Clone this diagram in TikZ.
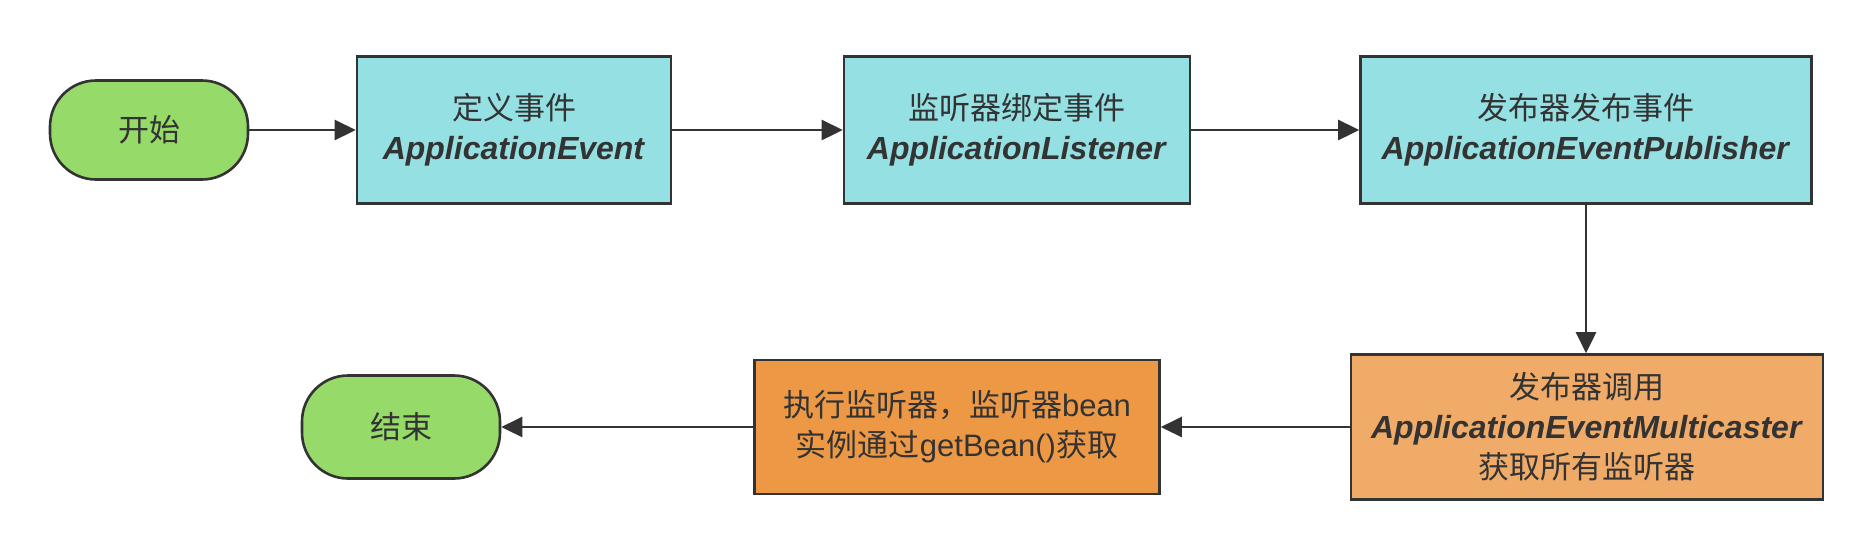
\documentclass[tikz,border=0pt]{standalone}
\usepackage{fontspec}
\setmainfont{Liberation Sans}
\newfontfamily\cjk{Noto Sans CJK SC}
\usetikzlibrary{arrows.meta}
\definecolor{ink}{HTML}{333333}
\definecolor{startgreen}{HTML}{96DA6A}
\definecolor{boxcyan}{HTML}{94E0E2}
\definecolor{boxorangel}{HTML}{F0AB69}
\definecolor{boxoranged}{HTML}{ED9844}
\begin{document}
\begin{tikzpicture}[x=1pt,y=-1pt,
  every node/.style={text=ink, align=center, inner sep=0pt, font=\fontsize{31}{40}\selectfont},
  terminal/.style={draw=ink, line width=2.6pt, fill=startgreen, rounded corners=46pt, minimum width=198pt},
  procbox/.style={draw=ink, line width=2.6pt, minimum height=147pt},
  flow/.style={draw=ink, line width=2.6pt, -{Triangle[length=21pt,width=20pt]}}
]
\useasboundingbox[fill=white] (0,0) rectangle (1873,550);
\newcommand{\bi}[1]{{\fontsize{32}{40}\selectfont\textbf{\textit{#1}}}}
\node[terminal, minimum height=99pt] (start) at (149,130) {\cjk 开始};
\node[procbox, fill=boxcyan, minimum width=314pt] (def) at (514,130) {{\cjk 定义事件}\\\bi{ApplicationEvent}};
\node[procbox, fill=boxcyan, minimum width=346pt] (lis) at (1017,130) {{\cjk 监听器绑定事件}\\\bi{ApplicationListener}};
\node[procbox, fill=boxcyan, minimum width=451pt] (pub) at (1586,130) {{\cjk 发布器发布事件}\\\bi{ApplicationEventPublisher}};
\node[procbox, fill=boxorangel, minimum width=472pt, minimum height=145pt] (multi) at (1587,427) {{\cjk 发布器调用}\\\bi{ApplicationEventMulticaster}\\{\cjk 获取所有监听器}};
\node[procbox, fill=boxoranged, minimum width=405pt, minimum height=134pt] (exec) at (957,427) {{\cjk 执行监听器，监听器}bean\\{\cjk 实例通过}getBean(){\cjk 获取}};
\node[terminal, minimum height=103pt] (end) at (401,427) {\cjk 结束};
\draw[flow] (start) -- (def);
\draw[flow] (def) -- (lis);
\draw[flow] (lis) -- (pub);
\draw[flow] (pub.south) -- (pub.south |- multi.north);
\draw[flow] (multi.west) -- (multi.west -| exec.east);
\draw[flow] (exec.west) -- (exec.west -| end.east);
\end{tikzpicture}
\end{document}
